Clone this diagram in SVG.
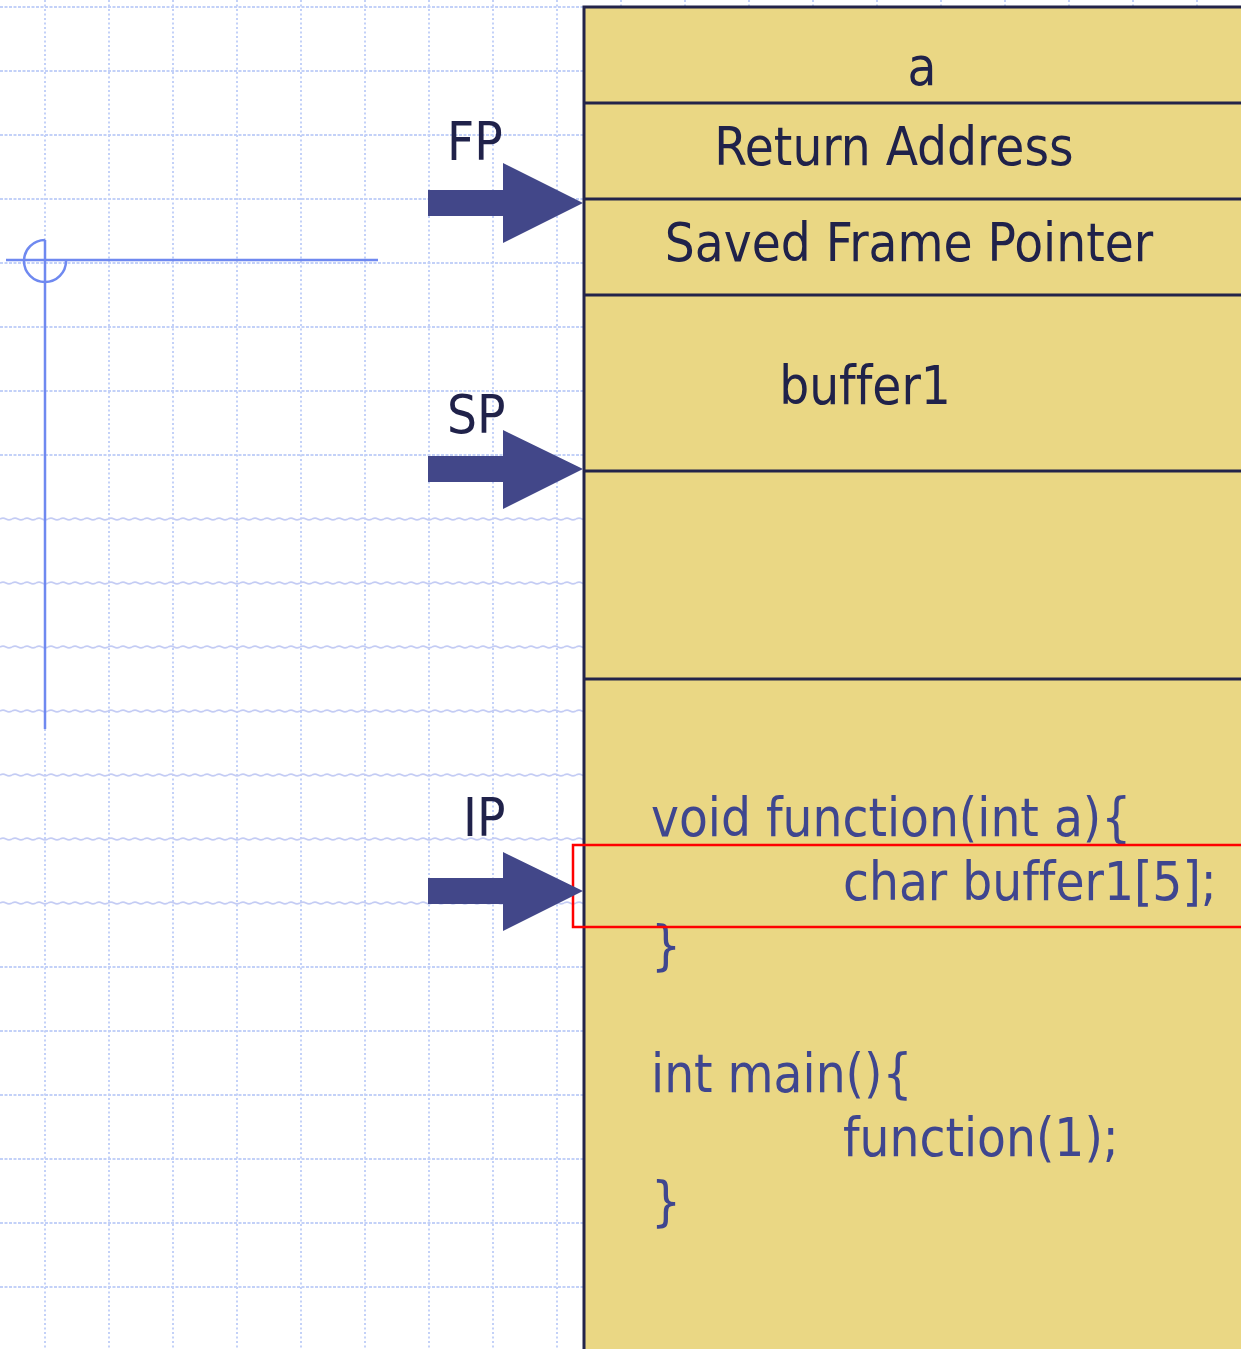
<svg xmlns="http://www.w3.org/2000/svg" width="1241" height="1349" viewBox="0 0 1241 1349">
  <style>
    .gv { stroke: #c3d1f8; stroke-width: 2; stroke-dasharray: 2 2.5; fill: none; }
    .gh { stroke: #c3d1f8; stroke-width: 2; stroke-dasharray: 3 1.5; fill: none; }
    .guide { stroke: #6f89f0; stroke-width: 2.5; fill: none; }
    .cell { fill: #ead784; stroke: #23244a; stroke-width: 3; }
    .sep { stroke: #23244a; stroke-width: 3; }
    .lbl, .code { font-family: "DejaVu Sans Condensed", "DejaVu Sans", sans-serif; font-size: 52.5px; font-variant-ligatures: none; }
    .lbl { fill: #20224a; }
    .code { fill: #3f468f; }
    .ptr { fill: #424789; }
    .hl { fill: none; stroke: #ff0000; stroke-width: 2.5; }
  </style>
  <defs>
    <pattern id="wave" patternUnits="userSpaceOnUse" x="0" y="0" width="12" height="64">
      <path d="M0 7 Q3 5.3 6 7 T12 7" stroke="#c4ccf4" stroke-width="1.6" fill="none"/>
    </pattern>
  </defs>

  <rect width="1241" height="1349" fill="#ffffff"/>

  <!-- background grid -->
  <g id="grid">
    <path class="gv" d="M45 0V1349M109 0V1349M173 0V1349M237 0V1349M301 0V1349M365 0V1349M429 0V1349M493 0V1349M557 0V1349M621 0V1349M685 0V1349M749 0V1349M813 0V1349M877 0V1349M941 0V1349M1005 0V1349M1069 0V1349M1133 0V1349M1197 0V1349"/>
    <path class="gh" d="M0 7H1241M0 71H1241M0 135H1241M0 199H1241M0 263H1241M0 327H1241M0 391H1241M0 455H1241M0 967H1241M0 1031H1241M0 1095H1241M0 1159H1241M0 1223H1241M0 1287H1241"/>
    <rect x="0" y="512" width="1241" height="396" fill="url(#wave)"/>
  </g>

  <!-- alignment guide -->
  <g id="guide">
    <path class="guide" d="M6 260H378"/>
    <path class="guide" d="M45 240V729"/>
    <path class="guide" d="M45 240A21 21 0 1 0 66 261"/>
  </g>

  <!-- stack frame -->
  <g id="stack">
    <rect class="cell" x="584" y="7" width="680" height="1360"/>
    <g id="cell-a">
      <line class="sep" x1="584" y1="103" x2="1241" y2="103"/>
      <text class="lbl" x="922" y="85" text-anchor="middle">a</text>
    </g>
    <g id="cell-ret">
      <line class="sep" x1="584" y1="199" x2="1241" y2="199"/>
      <text class="lbl" x="894" y="165" text-anchor="middle">Return Address</text>
    </g>
    <g id="cell-sfp">
      <line class="sep" x1="584" y1="295" x2="1241" y2="295"/>
      <text class="lbl" x="909" y="261" text-anchor="middle">Saved Frame Pointer</text>
    </g>
    <g id="cell-buffer1">
      <line class="sep" x1="584" y1="471" x2="1241" y2="471"/>
      <text class="lbl" x="865" y="404" text-anchor="middle">buffer1</text>
    </g>
    <g id="cell-free">
      <line class="sep" x1="584" y1="679" x2="1241" y2="679"/>
    </g>
    <g id="code">
      <text class="code" x="651" y="836">void function(int a){</text>
      <text class="code" x="843" y="900">char buffer1[5];</text>
      <text class="code" x="651" y="964">}</text>
      <text class="code" x="651" y="1092">int main(){</text>
      <text class="code" x="843" y="1156">function(1);</text>
      <text class="code" x="651" y="1220">}</text>
    </g>
    <rect id="current-line" class="hl" x="573" y="845" width="690" height="82"/>
  </g>

  <!-- pointer labels -->
  <g id="fp"><text class="lbl" x="447" y="160">FP</text></g>
  <g id="sp"><text class="lbl" x="447" y="433">SP</text></g>
  <g id="ip"><text class="lbl" x="463" y="836">IP</text></g>

  <!-- pointer arrows -->
  <g id="connectors">
    <polygon class="ptr" points="428,190 503,190 503,163 583,203 503,243 503,216 428,216"/>
    <polygon class="ptr" points="428,456 503,456 503,430 583,469 503,509 503,482 428,482"/>
    <polygon class="ptr" points="428,878 503,878 503,852 583,891 503,931 503,904 428,904"/>
  </g>
</svg>
